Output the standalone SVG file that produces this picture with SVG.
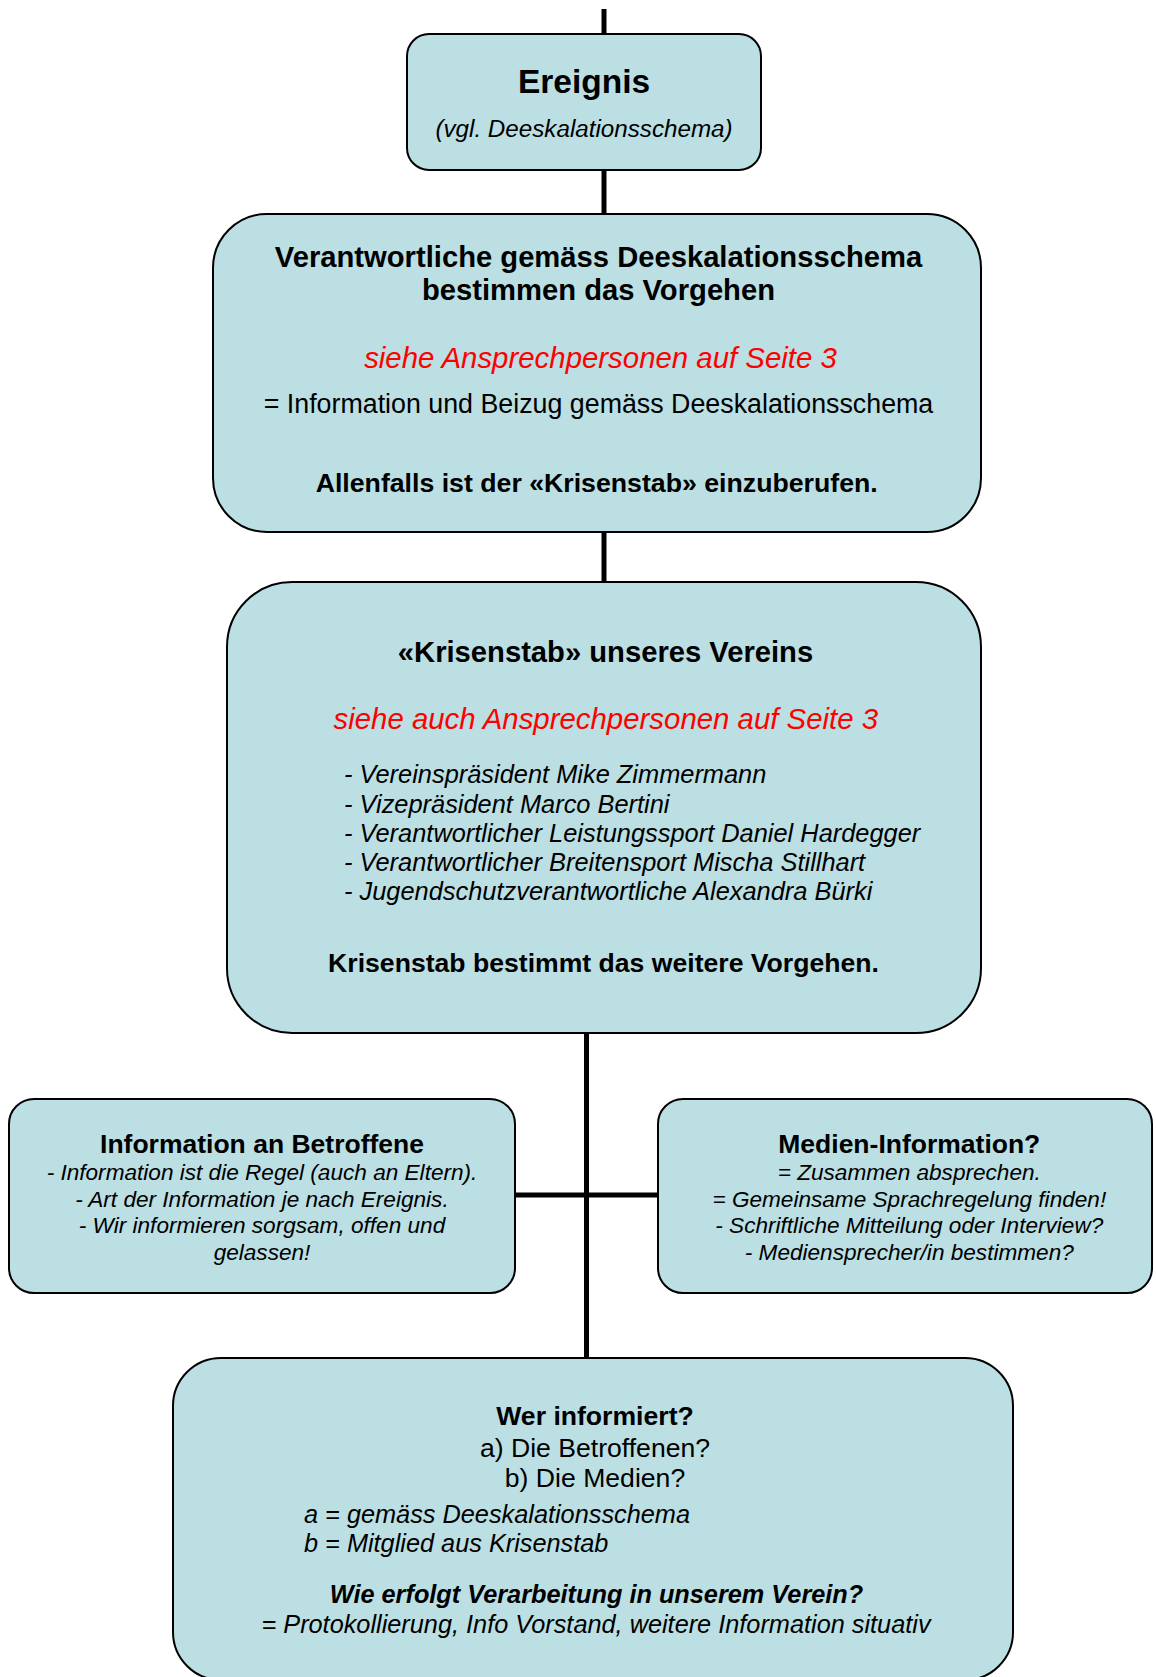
<svg xmlns="http://www.w3.org/2000/svg" width="1156" height="1677" viewBox="0 0 1156 1677">
<style>
.box{fill:#BBDFE3;stroke:#000;stroke-width:2}
.con{stroke:#000;stroke-width:5;fill:none}
text{font-family:"Liberation Sans",Arial,sans-serif;fill:#000}
.c{text-anchor:middle}
.b{font-weight:bold}
.i{font-style:italic}
.red{fill:#FF0000}
</style>
<rect width="1156" height="1677" fill="#fff"/>
<g id="connectors">
<line class="con" x1="604" y1="9" x2="604" y2="34"/>
<line class="con" x1="604" y1="170" x2="604" y2="214"/>
<line class="con" x1="604" y1="532" x2="604" y2="582"/>
<line class="con" x1="586.5" y1="1033" x2="586.5" y2="1358"/>
<line class="con" x1="515" y1="1195" x2="658" y2="1195"/>
</g>
<g id="ereignis">
<rect class="box" x="407" y="34" width="354" height="136" rx="22"/>
<text class="c b" x="584" y="92.5" font-size="33.5">Ereignis</text>
<text class="c i" x="584" y="137" font-size="24.2">(vgl. Deeskalationsschema)</text>
</g>
<g id="verantwortliche">
<rect class="box" x="213" y="214" width="768" height="318" rx="54"/>
<text class="c b" x="598.5" y="266.7" font-size="29.2">Verantwortliche gemäss Deeskalationsschema</text>
<text class="c b" x="598.5" y="300" font-size="29.2">bestimmen das Vorgehen</text>
<text class="c i red" x="600.5" y="368" font-size="29.4">siehe Ansprechpersonen auf Seite 3</text>
<text class="c" x="598.5" y="413" font-size="26.8">= Information und Beizug gemäss Deeskalationsschema</text>
<text class="c b" x="596.7" y="491.7" font-size="26.7">Allenfalls ist der «Krisenstab» einzuberufen.</text>
</g>
<g id="krisenstab">
<rect class="box" x="227" y="582" width="754" height="451" rx="65"/>
<text class="c b" x="605.5" y="661.7" font-size="29.2">«Krisenstab» unseres Vereins</text>
<text class="c i red" x="605.8" y="729.3" font-size="29.4">siehe auch Ansprechpersonen auf Seite 3</text>
<text class="i" x="344" y="783.3" font-size="25.4">- Vereinspräsident Mike Zimmermann</text>
<text class="i" x="344" y="812.5" font-size="25.4">- Vizepräsident Marco Bertini</text>
<text class="i" x="344" y="841.7" font-size="25.4">- Verantwortlicher Leistungssport Daniel Hardegger</text>
<text class="i" x="344" y="870.7" font-size="25.4">- Verantwortlicher Breitensport Mischa Stillhart</text>
<text class="i" x="344" y="900" font-size="25.4">- Jugendschutzverantwortliche Alexandra Bürki</text>
<text class="c b" x="603.5" y="971.7" font-size="26.6">Krisenstab bestimmt das weitere Vorgehen.</text>
</g>
<g id="information">
<rect class="box" x="9" y="1099" width="506" height="194" rx="25"/>
<text class="c b" x="262" y="1152.7" font-size="26.5">Information an Betroffene</text>
<text class="c i" x="262" y="1180" font-size="22.6">- Information ist die Regel (auch an Eltern).</text>
<text class="c i" x="262" y="1206.7" font-size="22.6">- Art der Information je nach Ereignis.</text>
<text class="c i" x="262" y="1233.3" font-size="22.6">- Wir informieren sorgsam, offen und</text>
<text class="c i" x="262" y="1260" font-size="22.6">gelassen!</text>
</g>
<g id="medien">
<rect class="box" x="658" y="1099" width="494" height="194" rx="25"/>
<text class="c b" x="909.3" y="1152.7" font-size="26.5">Medien-Information?</text>
<text class="c i" x="909.3" y="1180" font-size="22.6">= Zusammen absprechen.</text>
<text class="c i" x="909.3" y="1206.7" font-size="22.6">= Gemeinsame Sprachregelung finden!</text>
<text class="c i" x="909.3" y="1233.3" font-size="22.6">- Schriftliche Mitteilung oder Interview?</text>
<text class="c i" x="909.3" y="1260" font-size="22.6">- Mediensprecher/in bestimmen?</text>
</g>
<g id="wer-informiert">
<rect class="box" x="173" y="1358" width="840" height="322" rx="48"/>
<text class="c b" x="595" y="1425" font-size="26.6">Wer informiert?</text>
<text class="c" x="595" y="1456.7" font-size="26.6">a) Die Betroffenen?</text>
<text class="c" x="595" y="1486.7" font-size="26.6">b) Die Medien?</text>
<text class="i" x="304" y="1523.3" font-size="25.3">a = gemäss Deeskalationsschema</text>
<text class="i" x="304" y="1551.7" font-size="25.3">b = Mitglied aus Krisenstab</text>
<text class="c b i" x="596.5" y="1603.3" font-size="25.3">Wie erfolgt Verarbeitung in unserem Verein?</text>
<text class="c i" x="596" y="1633.3" font-size="25.3">= Protokollierung, Info Vorstand, weitere Information situativ</text>
</g>
</svg>
